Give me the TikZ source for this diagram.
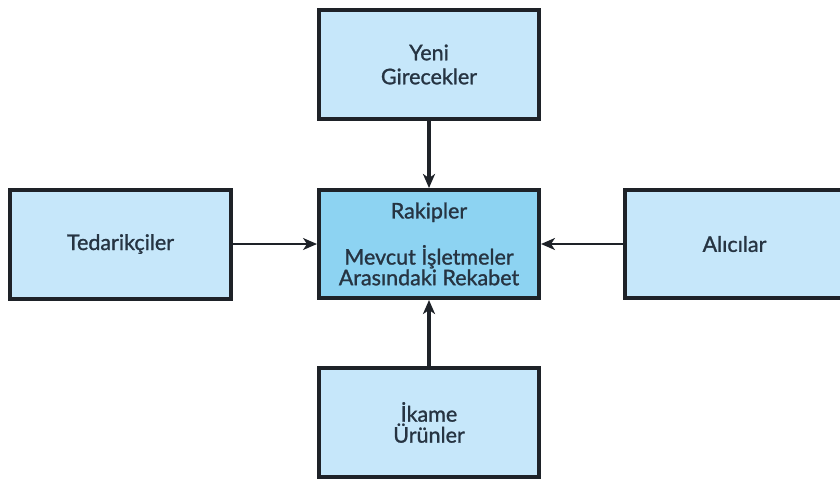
\documentclass[tikz,border=0pt]{standalone}
\usepackage{fontspec}
\setmainfont{Lato}[FakeBold=1.2]
\usetikzlibrary{arrows.meta}
\definecolor{boxlight}{RGB}{198,231,250}
\definecolor{boxmid}{RGB}{141,211,242}
\definecolor{boxline}{RGB}{30,34,40}
\definecolor{labeltext}{RGB}{38,52,66}
\tikzset{
  force/.style={draw=boxline, line width=4pt, fill=boxlight, rectangle,
    minimum width=220pt, minimum height=109pt, inner sep=0pt,
    text=labeltext, align=center,
    font=\fontsize{21.5}{24}\selectfont},
  core/.style={force, fill=boxmid, font=\fontsize{21.5}{19}\selectfont},
  thinflow/.style={draw=boxline, line width=2pt,
    -{Stealth[length=14pt,width=12pt,inset=4pt]}},
  thickflow/.style={draw=boxline, line width=3.5pt,
    -{Stealth[length=14pt,width=12pt,inset=4pt]}}
}
\begin{document}
\begin{tikzpicture}[x=1pt,y=-1pt]
  \useasboundingbox (0,0) rectangle (840,479);
  \fill[white] (0,0) rectangle (840,479);

  % five forces
  \node[force] (entrants) at (429,64.5) {Yeni\\Girecekler};
  \node[force, minimum width=221pt] (suppliers) at (120.5,244) {Tedarikçiler};
  \node[core, minimum height=108pt] (rivals) at (429,244)
    {Rakipler\\[22pt]Mevcut İşletmeler\\Arasındaki Rekabet};
  \node[force, minimum height=108pt] (buyers) at (734.5,244) {Alıcılar};
  \node[force, font=\fontsize{21.5}{21}\selectfont] (substitutes) at (429,422.5)
    {İkame\\Ürünler};

  % influences on rivalry
  \draw[thickflow] (entrants) -- (rivals);
  \draw[thinflow] (suppliers) -- (rivals);
  \draw[thinflow] (buyers) -- (rivals);
  \draw[thickflow] (substitutes) -- (rivals);
\end{tikzpicture}
\end{document}
